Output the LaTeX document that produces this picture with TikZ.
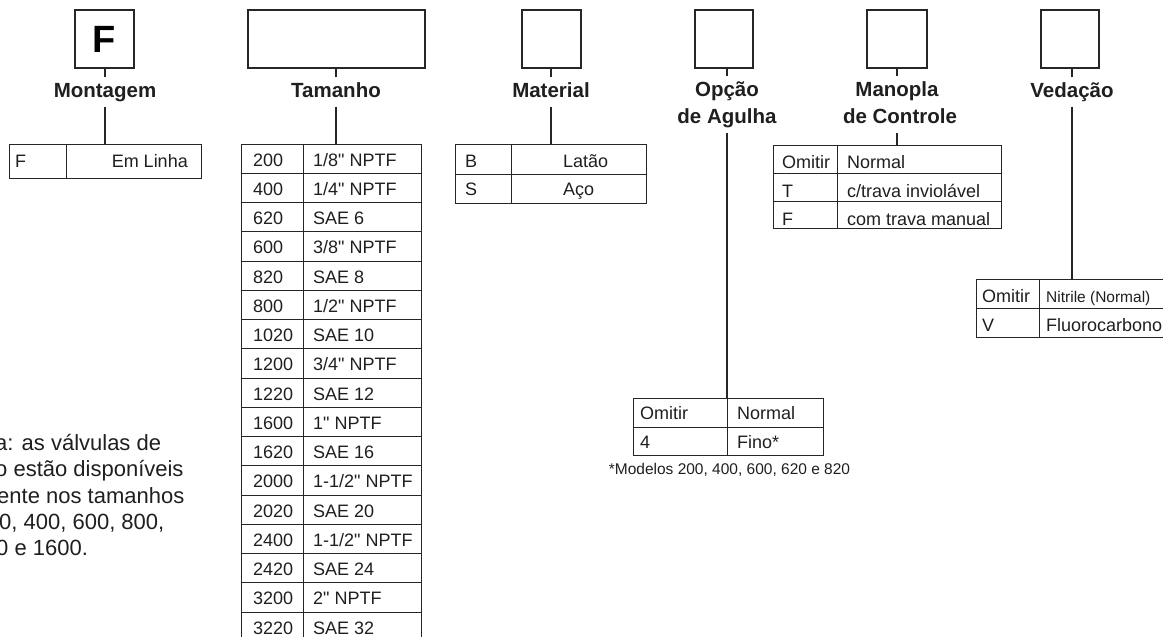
\documentclass[tikz,border=0pt]{standalone}
\usepackage{fontspec}
\setmainfont{Liberation Sans}[Ligatures=TeXOff]
\begin{document}
\begin{tikzpicture}[x=1pt,y=-1pt,
  ln/.style={line width=1.1pt, draw=black!85},
  tl/.style={line width=1pt, draw=black!85},
  selbox/.style={draw=black!85, line width=1.2pt, minimum height=58pt, inner sep=0pt},
  lab/.style={font=\fontsize{20.5}{24}\selectfont\bfseries, text=black!88, inner xsep=0pt, inner ysep=5pt, text height=14.5pt, text depth=4.5pt, anchor=base},
  tab/.style={draw=black!85, line width=1pt, inner sep=0pt},
  cell/.style={font=\fontsize{18}{20}\selectfont, text=black!88, inner sep=0pt, anchor=base west},
  note/.style={font=\fontsize{22}{26}\selectfont, text=black!88, inner sep=0pt, anchor=base west}
]
\useasboundingbox (0,0) rectangle (1163,637);

% ---------- selection boxes ----------
\node[selbox, minimum width=59pt] (boxM) at (104.5,39) {\fontsize{38}{40}\selectfont\bfseries F};
\node[selbox, minimum width=177pt] (boxT) at (336.5,39) {};
\node[selbox, minimum width=59pt] (boxMat) at (551.5,39) {};
\node[selbox, minimum width=58pt] (boxO) at (724,39) {};
\node[selbox, minimum width=60pt] (boxMan) at (897,39) {};
\node[selbox, minimum width=58pt] (boxV) at (1070,39) {};

% ---------- labels ----------
\node[lab] (labM) at (105,97) {Montagem};
\node[lab] (labT) at (336,97) {Tamanho};
\node[lab] (labMat) at (551,97) {Material};
\node[lab] (labO1) at (727,96) {Opção};
\node[lab] (labO2) at (727,123) {de Agulha};
\node[lab] (labMan1) at (897,96) {Manopla};
\node[lab] (labMan2) at (900,123) {de Controle};
\node[lab] (labV) at (1072,97) {Vedação};

% ---------- tables (outer frames) ----------
\node[tab, minimum width=192pt, minimum height=34pt] (tabM) at (105,161) {};
\node[tab, minimum width=180pt, minimum height=497.25pt] (tabT) at (331,392.625) {};
\node[tab, minimum width=191pt, minimum height=59pt] (tabMat) at (550.5,173.5) {};
\node[tab, minimum width=190pt, minimum height=57pt] (tabO) at (728,426.5) {};
\node[tab, minimum width=228pt, minimum height=83pt] (tabMan) at (887,186.5) {};
\node[tab, minimum width=209pt, minimum height=58pt] (tabV) at (1080.5,308) {};

% ---------- connectors ----------
\draw[ln] (labM.north) -- (labM.north |- boxM.south);
\draw[ln] (labM.south) -- (labM.south |- tabM.north);
\draw[ln] (labT.north) -- (labT.north |- boxT.south);
\draw[ln] (labT.south) -- (labT.south |- tabT.north);
\draw[ln] (labMat.north) -- (labMat.north |- boxMat.south);
\draw[ln] (labMat.south) -- (labMat.south |- tabMat.north);
\draw[ln] (labO1.north) -- (labO1.north |- boxO.south);
\draw[ln] (labO2.south) -- (labO2.south |- tabO.north);
\draw[ln] (labMan1.north -| boxMan.south) -- (boxMan.south);
\draw[ln] (labMan2.south -| boxMan.south) -- (boxMan.south |- tabMan.north);
\draw[ln] (labV.north) -- (labV.north |- boxV.south);
\draw[ln] (labV.south) -- (labV.south |- tabV.north);

% ---------- Montagem table ----------
\draw[tl] (66,144) -- (66,178);
\node[cell] (mF) at (15,167) {F};
\node[cell, anchor=base east] (mEL) at (188,167) {Em Linha};

% ---------- Tamanho table ----------
\draw[tl] (303,144) -- (303,642);
\foreach \i in {1,...,16} { \draw[tl] (241,144+29.25*\i) -- (421,144+29.25*\i); }
\newcommand\tamrow[3]{%
  \node[cell] (tA#1) at (253,166+29.25*#1) {#2};
  \node[cell] (tB#1) at (313,166+29.25*#1) {#3};}
\tamrow{0}{200}{1/8" NPTF}
\tamrow{1}{400}{1/4" NPTF}
\tamrow{2}{620}{SAE 6}
\tamrow{3}{600}{3/8" NPTF}
\tamrow{4}{820}{SAE 8}
\tamrow{5}{800}{1/2" NPTF}
\tamrow{6}{1020}{SAE 10}
\tamrow{7}{1200}{3/4" NPTF}
\tamrow{8}{1220}{SAE 12}
\tamrow{9}{1600}{1" NPTF}
\tamrow{10}{1620}{SAE 16}
\tamrow{11}{2000}{1-1/2" NPTF}
\tamrow{12}{2020}{SAE 20}
\tamrow{13}{2400}{1-1/2" NPTF}
\tamrow{14}{2420}{SAE 24}
\tamrow{15}{3200}{2" NPTF}
\tamrow{16}{3220}{SAE 32}

% ---------- Material table ----------
\draw[tl] (511,144) -- (511,203);
\draw[tl] (455,174) -- (646,174);
\node[cell] (matB) at (465,167) {B};
\node[cell] (matL) at (563,167) {Latão};
\node[cell] (matS) at (465,195) {S};
\node[cell] (matA) at (563,195) {Aço};

% ---------- Opcao de Agulha table ----------
\draw[tl] (727,398) -- (727,455);
\draw[tl] (633,427) -- (823,427);
\node[cell] (oO) at (640,419) {Omitir};
\node[cell] (oN) at (737,419) {Normal};
\node[cell] (o4) at (640,448) {4};
\node[cell] (oF) at (737,448) {Fino*};
\node[font=\fontsize{15.5}{18}\selectfont, text=black!88, inner sep=0pt, anchor=base] (foot) at (729.5,474) {*Modelos 200, 400, 600, 620 e 820};

% ---------- Manopla table ----------
\draw[tl] (837,145) -- (837,228);
\draw[tl] (773,173) -- (1001,173);
\draw[tl] (773,201.5) -- (1001,201.5);
\node[cell] (mnO) at (782,168) {Omitir};
\node[cell] (mnN) at (847,168) {Normal};
\node[cell] (mnT) at (782,197) {T};
\node[cell] (mnTv) at (847,197) {c/trava inviolável};
\node[cell] (mnF) at (782,225) {F};
\node[cell] (mnFv) at (847,225) {com trava manual};

% ---------- Vedacao table ----------
\draw[tl] (1039,279) -- (1039,337);
\draw[tl] (976,308) -- (1185,308);
\node[cell] (vO) at (982,302) {Omitir};
\node[cell, font=\fontsize{15.5}{18}\selectfont] (vN) at (1046,302) {Nitrile (Normal)};
\node[cell] (vV) at (982,331) {V};
\node[cell] (vF) at (1046,331) {Fluorocarbono};

% ---------- note (cut at left edge, as in the reference) ----------
\node[note] (n1) at (-5,450) {a: as válvulas de};
\node[note] (n2) at (-5,476.5) {o estão disponíveis};
\node[note] (n3) at (-3,503) {ente nos tamanhos};
\node[note] (n4) at (-1,529) {0, 400, 600, 800,};
\node[note] (n5) at (-4,555) {0 e 1600.};
\end{tikzpicture}
\end{document}
